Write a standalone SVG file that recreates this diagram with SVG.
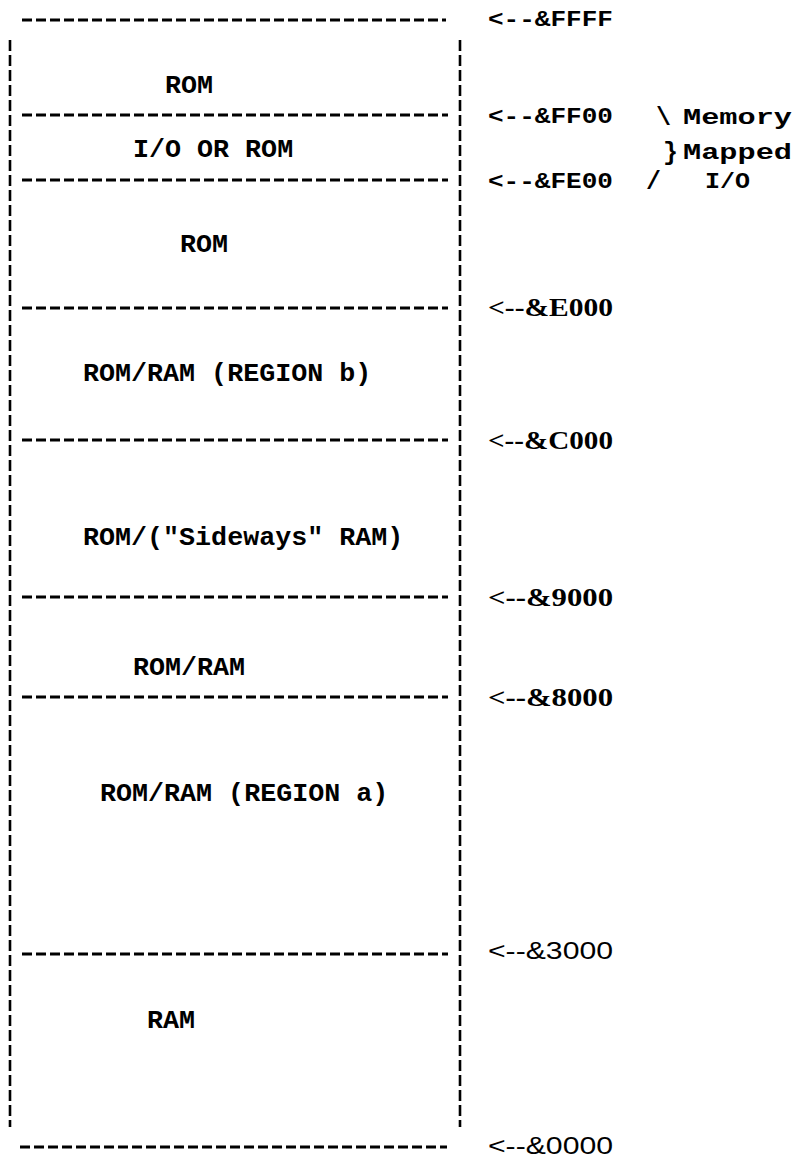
<svg xmlns="http://www.w3.org/2000/svg" width="794" height="1159" viewBox="0 0 794 1159">
<style>
.h{stroke:#000;stroke-width:3.2;stroke-dasharray:10 4;fill:none}
.v{stroke:#000;stroke-width:2.6;stroke-dasharray:11 4;fill:none}
.t{font-family:"Liberation Mono","DejaVu Sans Mono",monospace;font-size:26.7px;font-weight:bold;fill:#000}
.a{font-family:"Liberation Mono","DejaVu Sans Mono",monospace;font-size:22px;font-weight:bold;fill:#000}
.p{font-family:"Liberation Mono","DejaVu Sans Mono",monospace;font-size:25px;font-weight:bold;fill:#000}
.b{font-family:"Liberation Serif","DejaVu Serif",serif;font-size:25px;font-weight:bold;fill:#000}
.s{font-family:"Liberation Sans","DejaVu Sans",sans-serif;font-size:23px;font-weight:normal;fill:#000}
</style>
<rect width="794" height="1159" fill="#fff"/>
<g id="frame">
<path class="h" d="M22 20H446"/>
<path class="v" d="M10 40V1127"/>
<path class="v" d="M460 40V1127"/>
<path class="h" d="M20 1147H447"/>
</g>
<g id="connectors">
<path class="h" d="M22 115H448"/>
<path class="h" d="M22 180H448"/>
<path class="h" d="M22 308H448"/>
<path class="h" d="M22 440H448"/>
<path class="h" d="M22 597H448"/>
<path class="h" d="M22 697H448"/>
<path class="h" d="M22 954H448"/>
</g>
<g id="region-rom-top"><text class="t" x="165" y="93">ROM</text></g>
<g id="region-io"><text class="t" x="133" y="157">I/O OR ROM</text></g>
<g id="region-rom"><text class="t" x="180" y="252">ROM</text></g>
<g id="region-b"><text class="t" x="83" y="381">ROM/RAM (REGION b)</text></g>
<g id="region-sideways"><text class="t" x="83" y="545">ROM/("Sideways" RAM)</text></g>
<g id="region-romram"><text class="t" x="133" y="675">ROM/RAM</text></g>
<g id="region-a"><text class="t" x="100" y="801">ROM/RAM (REGION a)</text></g>
<g id="region-ram"><text class="t" x="147" y="1028">RAM</text></g>
<g id="addresses">
<text class="a" x="488" y="26" textLength="125" lengthAdjust="spacingAndGlyphs">&lt;--&amp;FFFF</text>
<text class="a" x="488" y="123" textLength="125" lengthAdjust="spacingAndGlyphs">&lt;--&amp;FF00</text>
<text class="a" x="488" y="188" textLength="125" lengthAdjust="spacingAndGlyphs">&lt;--&amp;FE00</text>
<text class="b" x="488" y="316" textLength="125" lengthAdjust="spacingAndGlyphs">&lt;--&amp;E000</text>
<text class="b" x="488" y="449" textLength="125" lengthAdjust="spacingAndGlyphs">&lt;--&amp;C000</text>
<text class="b" x="488" y="606" textLength="125" lengthAdjust="spacingAndGlyphs">&lt;--&amp;9000</text>
<text class="b" x="488" y="706" textLength="125" lengthAdjust="spacingAndGlyphs">&lt;--&amp;8000</text>
<text class="s" x="488" y="959" textLength="125" lengthAdjust="spacingAndGlyphs">&lt;--&amp;3000</text>
<text class="s" x="488" y="1154" textLength="125" lengthAdjust="spacingAndGlyphs">&lt;--&amp;0000</text>
</g>
<g id="io-note">
<text class="p" x="656" y="125">\</text>
<text class="p" x="663" y="160">}</text>
<text class="p" x="646" y="189">/</text>
<text class="a" x="683" y="124" textLength="109" lengthAdjust="spacingAndGlyphs">Memory</text>
<text class="a" x="683" y="159" textLength="109" lengthAdjust="spacingAndGlyphs">Mapped</text>
<text class="a" x="705" y="188" textLength="45" lengthAdjust="spacingAndGlyphs">I/O</text>
</g>
</svg>
